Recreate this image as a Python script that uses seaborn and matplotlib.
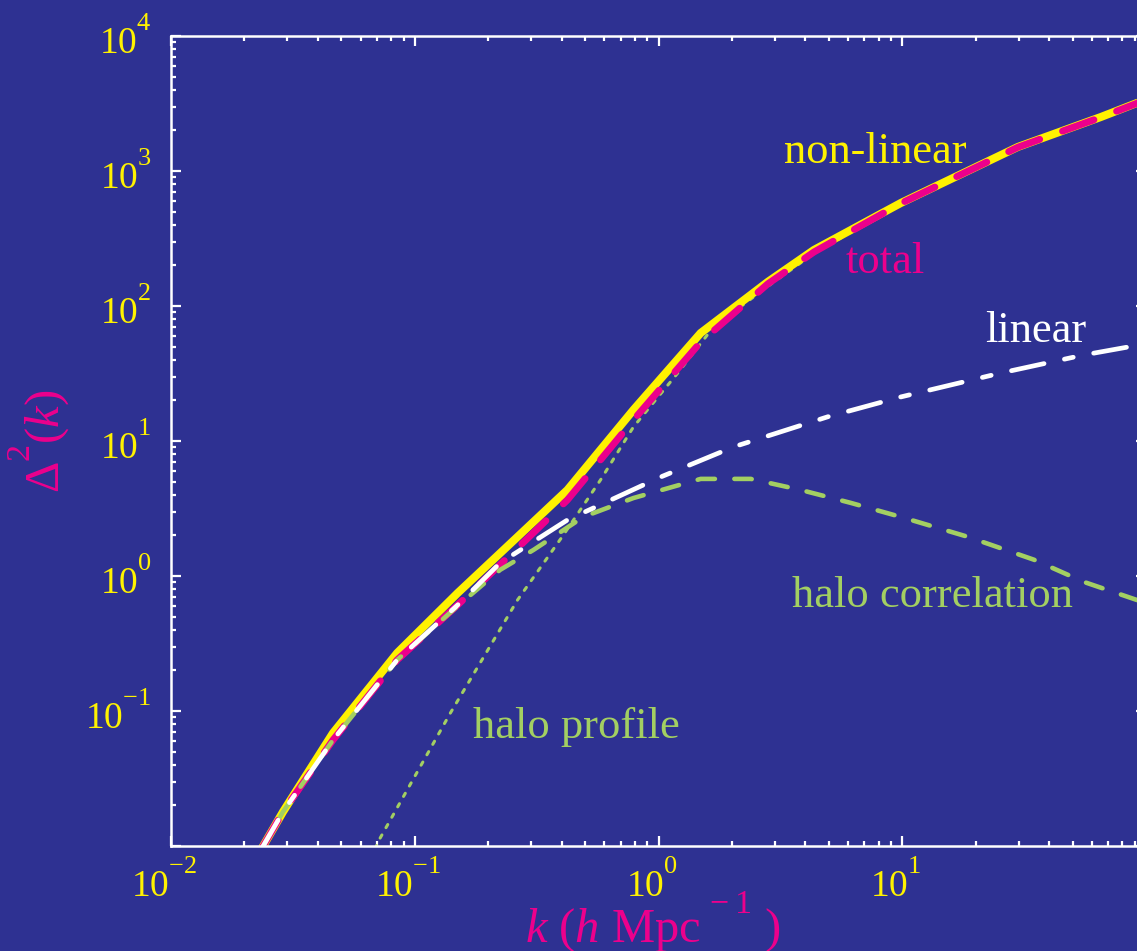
import numpy as np
import pandas as pd
import matplotlib
matplotlib.use("Agg")
import matplotlib.pyplot as plt
import matplotlib.transforms as mtransforms
from matplotlib.ticker import FixedLocator, FixedFormatter, LogLocator, NullFormatter
import seaborn as sns
try:
    import matplotlib._mathtext as _mt
    _mt.FontConstantsBase.sup1 = 1.3   # raise superscripts like the reference
except Exception:
    pass

# ---------------- data ----------------
k_nonlinear = [0.0235, 0.0288, 0.0462, 0.0847, 0.150, 0.264, 0.423, 0.789, 1.49, 2.81, 4.34, 9.86, 29.8, 65.3, 100.0]
d_nonlinear = [0.0095, 0.0179, 0.0687, 0.269, 0.748, 1.95, 4.34, 17.0, 63.1, 151, 260, 579, 1507, 2512, 3388]

k_total = [0.0235, 0.0288, 0.0462, 0.0847, 0.150, 0.264, 0.423, 0.789, 1.49, 2.81, 4.34, 9.86, 29.8, 65.3, 100.0]
d_total = [0.0095, 0.0179, 0.0610, 0.239, 0.610, 1.61, 3.66, 14.3, 54.1, 146, 251, 575, 1500, 2500, 3370]

k_linear = [0.0235, 0.0288, 0.0462, 0.0847, 0.150, 0.224, 0.423, 1.02, 2.03, 4.94, 9.86, 25.4, 55.6, 100.0]
d_linear = [0.0095, 0.0179, 0.0610, 0.239, 0.610, 1.25, 2.60, 5.41, 9.04, 15.1, 21.2, 31.9, 43.4, 52.5]

k_halo_corr = [0.0235, 0.0288, 0.0462, 0.0847, 0.150, 0.224, 0.307, 0.492, 0.789, 1.49, 2.39, 3.83, 6.15, 9.86, 18.6, 34.7, 55.6, 100.0]
d_halo_corr = [0.0095, 0.0179, 0.0610, 0.239, 0.600, 1.11, 1.56, 2.74, 3.78, 5.24, 5.24, 4.34, 3.48, 2.74, 1.95, 1.32, 0.904, 0.63]

k_halo_prof = [0.0690, 0.0702, 0.140, 0.264, 0.407, 0.578, 0.789, 1.20, 1.68, 2.81, 4.34, 9.86, 29.8, 65.3, 100.0]
d_halo_prof = [0.0095, 0.0105, 0.0966, 0.664, 2.01, 5.14, 12.7, 31.9, 69.8, 140, 245, 572, 1500, 2500, 3370]

x_ticks = [0.01, 0.1, 1.0, 10.0, 100.0]
x_tick_labels = [r"$\mathregular{10^{-2}}$", r"$\mathregular{10^{-1}}$", r"$\mathregular{10^{0}}$", r"$\mathregular{10^{1}}$", ""]
y_ticks = [0.01, 0.1, 1.0, 10.0, 100.0, 1000.0, 10000.0]
y_tick_labels = ["", r"$\mathregular{10^{-1}}$", r"$\mathregular{10^{0}}$", r"$\mathregular{10^{1}}$",
                 r"$\mathregular{10^{2}}$", r"$\mathregular{10^{3}}$", r"$\mathregular{10^{4}}$"]

curve_labels = ["non-linear", "total", "linear", "halo correlation", "halo profile"]
label_pos_k = [7.78, 8.55, 35.3, 13.3, 0.460]
label_pos_d = [1146, 175, 54.1, 0.589, 0.063]

# ---------------- style ----------------
BG = "#2E3192"
YELLOW = "#FFF200"
MAGENTA = "#EC008C"
GREEN = "#A3CF62"
WHITE = "#FFFFFF"

sns.set_style("ticks", {"axes.facecolor": BG, "figure.facecolor": BG,
                        "axes.edgecolor": WHITE})
plt.rcParams["font.family"] = ["Liberation Serif", "DejaVu Serif"]
plt.rcParams["mathtext.fontset"] = "custom"
plt.rcParams["mathtext.rm"] = "Liberation Serif"
plt.rcParams["mathtext.it"] = "Liberation Serif:italic"
plt.rcParams["mathtext.bf"] = "Liberation Serif:bold"
plt.rcParams["lines.scale_dashes"] = False

fig = plt.figure(figsize=(11.37, 9.51), dpi=100, facecolor=BG)
ax = fig.add_axes([171 / 1137, 1 - 846 / 951, (1146 - 171) / 1137, (846 - 36) / 951])
ax.set_facecolor(BG)
ax.set_xscale("log")
ax.set_yscale("log")

def draw(k, d, color, lw, ls, cap="round"):
    df = pd.DataFrame({"k": k, "d": d})
    sns.lineplot(data=df, x="k", y="d", ax=ax, color=color, linewidth=lw,
                 linestyle=ls, estimator=None, sort=False, legend=False)
    ln = ax.lines[-1]
    ln.set_dash_capstyle(cap)
    ln.set_solid_capstyle("butt")
    ln.set_solid_joinstyle("miter")

draw(k_halo_prof, d_halo_prof, GREEN, 2.2, (0, (2.6, 6.0)))
draw(k_nonlinear, d_nonlinear, YELLOW, 5.8, "-")
draw(k_total, d_total, MAGENTA, 5.0, (0, (24, 17.5)))
draw(k_halo_corr, d_halo_corr, GREEN, 3.3, (0, (12.5, 14)))
draw(k_linear, d_linear, WHITE, 3.4, (0, (24, 15, 6.5, 15)))

ax.set_xlim(0.01, 100)
ax.set_ylim(0.01, 1e4)

# ticks
ax.xaxis.set_major_locator(FixedLocator(x_ticks))
ax.xaxis.set_major_formatter(FixedFormatter(x_tick_labels))
ax.yaxis.set_major_locator(FixedLocator(y_ticks))
ax.yaxis.set_major_formatter(FixedFormatter(y_tick_labels))
ax.xaxis.set_minor_locator(LogLocator(base=10, subs=np.arange(2, 10), numticks=20))
ax.yaxis.set_minor_locator(LogLocator(base=10, subs=np.arange(2, 10), numticks=20))
ax.xaxis.set_minor_formatter(NullFormatter())
ax.yaxis.set_minor_formatter(NullFormatter())
ax.tick_params(which="both", direction="in", top=True, right=True, color=WHITE,
               width=1.6)
ax.tick_params(which="major", length=7.5)
ax.tick_params(which="minor", length=3.8)
ax.tick_params(axis="x", which="major", labelsize=27, labelcolor=YELLOW, pad=10)
ax.tick_params(axis="y", which="major", labelsize=27, labelcolor=YELLOW, pad=14)
for s in ax.spines.values():
    s.set_color(WHITE)
    s.set_linewidth(1.8)

ax.set_xlabel(r"$k$ ($h$ Mpc$^{\,-1}$ )", color=MAGENTA, fontsize=35)
ax.set_ylabel(r"$\Delta^{2}(k)$", color=MAGENTA, fontsize=35)
ax.xaxis.label.set_verticalalignment("baseline")
ax.xaxis.set_label_coords(0.494, -0.1185)
ax.yaxis.set_label_coords(-0.103, 0.5)

label_colors = [YELLOW, MAGENTA, WHITE, GREEN, GREEN]
for t, kx, dy, c in zip(curve_labels, label_pos_k, label_pos_d, label_colors):
    ax.text(kx, dy, t, color=c, fontsize=32, ha="center", va="baseline")

# shift x tick labels slightly left as in the reference
offset = mtransforms.ScaledTranslation(-7 / 100, 0, fig.dpi_scale_trans)
for tick in ax.xaxis.get_major_ticks():
    tick.label1.set_transform(tick.label1.get_transform() + offset)

fig.savefig("out.png", dpi=100, facecolor=BG)
